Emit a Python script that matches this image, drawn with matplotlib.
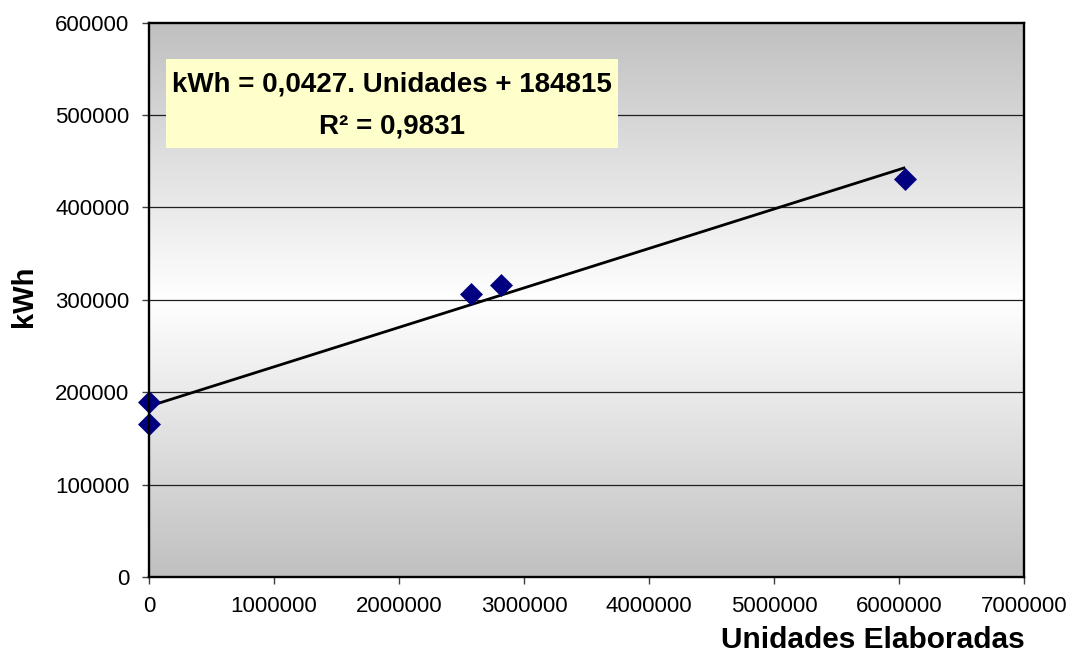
import numpy as np
import matplotlib
matplotlib.use("Agg")
import matplotlib.pyplot as plt
from matplotlib.colors import LinearSegmentedColormap
from matplotlib.patches import Rectangle

plt.rcParams['font.family'] = ['Liberation Sans', 'DejaVu Sans']

# Production volume vs. electricity consumption
unidades = [0, 0, 2575000, 2815000, 6050000]
kwh = [189500, 166000, 306500, 316500, 431000]

# Fitted linear trend (as stated in the annotation)
slope = 0.0427
intercept = 184815
r2_text = "0,9831"

x_ticks = [0, 1000000, 2000000, 3000000, 4000000, 5000000, 6000000, 7000000]
y_ticks = [0, 100000, 200000, 300000, 400000, 500000, 600000]

W, H = 1071, 654
fig = plt.figure(figsize=(W / 100, H / 100), dpi=100)
ax = fig.add_axes([149 / W, 1 - 577 / H, (1024 - 149) / W, (577 - 22.7) / H])

ax.set_xlim(0, 7000000)
ax.set_ylim(0, 600000)

# Plot-area fill: grey at top and bottom, white through the middle
cmap = LinearSegmentedColormap.from_list("band", ["#c0c0c0", "#ffffff", "#c0c0c0"])
grad = np.linspace(0, 1, 512).reshape(-1, 1)
ax.imshow(grad, cmap=cmap, aspect='auto', extent=(0, 7000000, 0, 600000),
          origin='lower', zorder=0, interpolation='bilinear')

for yv in y_ticks[1:-1]:
    ax.axhline(yv, color='#202020', lw=0.9, zorder=1)

# Trend line over the data range
xs = np.array([min(unidades), max(unidades)], dtype=float)
ax.plot(xs, slope * xs + intercept, color='black', lw=2.0, zorder=2,
        solid_capstyle='butt')

ax.plot(unidades, kwh, linestyle='none', marker='D', markersize=11.5,
        color='#000080', markeredgecolor='#000080', markeredgewidth=0.5,
        zorder=3, clip_on=False)

ax.set_xticks(x_ticks)
ax.set_yticks(y_ticks)
ax.set_xticklabels([str(v) for v in x_ticks])
ax.set_yticklabels([str(v) for v in y_ticks])
ax.tick_params(axis='both', direction='out', length=5, width=1,
               color='#404040', labelsize=16, labelcolor='black')
ax.tick_params(axis='x', pad=9)
ax.tick_params(axis='y', pad=9)

for sp in ax.spines.values():
    sp.set_color('black')
    sp.set_linewidth(1.7)
    sp.set_zorder(4)

# Equation box
bx0, bx1 = (166 - 149) / 875, (617.7 - 149) / 875
by0, by1 = (577 - 147.7) / 554.3, (577 - 59) / 554.3
ax.add_patch(Rectangle((bx0, by0), bx1 - bx0, by1 - by0, transform=ax.transAxes,
                       facecolor='#ffffcc', edgecolor='none', zorder=5))
cx = (bx0 + bx1) / 2
ax.text(cx, (577 - 91.7) / 554.3, "kWh = 0,0427. Unidades + 184815",
        transform=ax.transAxes, ha='center', va='baseline', fontsize=20,
        fontweight='bold', zorder=6)
ax.text(cx, (577 - 133.3) / 554.3, "R² = " + r2_text,
        transform=ax.transAxes, ha='center', va='baseline', fontsize=20,
        fontweight='bold', zorder=6)

fig.text(1025 / W, 1 - 648.5 / H, "Unidades Elaboradas", ha='right',
         va='baseline', fontsize=21.5, fontweight='bold')
fig.text(38 / W, 1 - 296 / H, "kWh", rotation=90, ha='right', va='center',
         fontsize=21, fontweight='bold')

fig.savefig("out.png", dpi=100, facecolor='white')
